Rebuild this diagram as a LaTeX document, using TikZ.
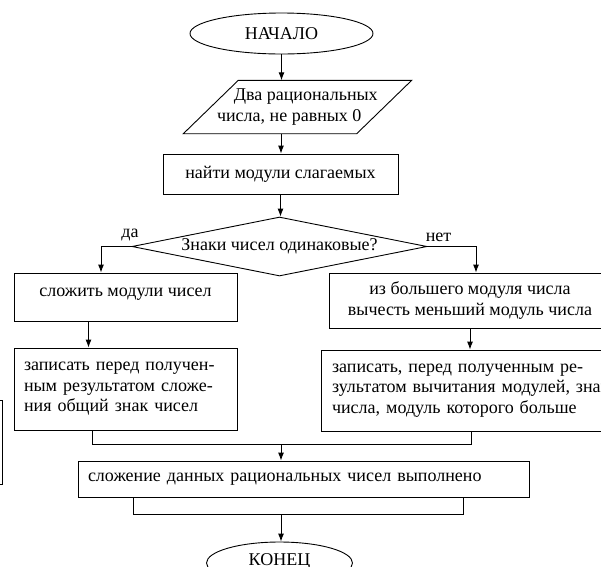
\documentclass[tikz,border=0pt]{standalone}
\usepackage{fontspec}
\setmainfont{Liberation Serif}
\usetikzlibrary{shapes.geometric,arrows.meta}
\begin{document}
\begin{tikzpicture}[x=1pt,y=-1pt,
  every node/.style={font=\fontsize{18pt}{20.5pt}\selectfont, inner sep=0pt},
  arr/.style={line width=0.9pt, -{Latex[length=8pt,width=6pt]}},
  conn/.style={line width=0.9pt},
  box/.style={draw, line width=0.9pt, rectangle},
  term/.style={draw, line width=0.9pt, ellipse},
  decide/.style={draw, line width=0.9pt, diamond, aspect=5},
]
\useasboundingbox (0,0) rectangle (601,566);
\clip (0,0) rectangle (601,566);

% nodes
\node[term, minimum width=183pt, minimum height=41pt] (start) at (281.5,33.5) {НАЧАЛО};
\node[minimum width=173pt, minimum height=53pt, align=center] (in) at (297.5,107) {\hspace*{16.5pt}Два рациональных\\числа, не равных 0\hspace*{16.5pt}};
\draw[conn] ([xshift=-27.5pt]in.south west) -- ([xshift=27.5pt]in.north west) -- ([xshift=27.5pt]in.north east) -- ([xshift=-27.5pt]in.south east) -- cycle;
\node[box, minimum width=235pt, minimum height=40pt] (find) at (280.5,174) {найти модули слагаемых};
\node[decide, minimum width=295pt, minimum height=59pt] (dia) at (279.5,246.5) {Знаки чисел одинаковые?};
\node (yes) at (130,235) {да};
\node (no) at (438.5,237) {нет};
\node[box, minimum width=223pt, minimum height=48pt, text height=10pt, text depth=11pt] (add) at (125.5,297) {сложить модули чисел};
\node[box, minimum width=282pt, minimum height=55pt, align=center] (sub) at (470,300.5) {из большего модуля числа\\вычесть меньший модуль числа};
\node[box, minimum width=223pt, minimum height=82pt, text width=203pt, align=left] (wr1) at (125.5,389) {записать перед получен-\\ным результатом сложе-\\ния общий знак чисел};
\node[box, minimum height=81pt, text width=300pt, inner xsep=11pt, align=left] (wr2) at (482,390.5) {записать, перед полученным ре-\\зультатом вычитания модулей, знак\\числа, модуль которого больше};
\node[box, minimum width=451pt, minimum height=36pt, text width=431pt, align=left] (res) at (303.5,479) {сложение данных рациональных чисел выполнено};
\node[term, minimum width=146pt, minimum height=42pt, text height=12pt, text depth=8pt] (end) at (279.5,563) {КОНЕЦ};

% partial box at left edge
\draw[conn] (-20,400) rectangle (2.5,484);

% connectors
\draw[arr] (start.south) -- (start.south |- in.north);
\draw[arr] ([xshift=-16.5pt]in.south) -- ([xshift=-16.5pt]in.south |- find.north);
\draw[arr] (find.south) -- (find.south |- dia.north);
\draw[arr] (dia.west) -| ([xshift=-24.5pt]add.north);
\draw[arr] (dia.east) -| ([xshift=6pt]sub.north);
\draw[arr] ([xshift=-37pt]add.south) -- ([xshift=-37pt]add.south |- wr1.north);
\draw[arr] (sub.south) -- (sub.south |- wr2.north);
\coordinate (j1) at (281,444);
\draw[conn] ([xshift=-33.5pt]wr1.south) |- (j1) -| ([xshift=-11pt]wr2.south);
\draw[arr] (j1) -- (j1 |- res.north);
\coordinate (j2) at (281,514);
\draw[conn] ([xshift=-170.5pt]res.south) |- (j2) -| ([xshift=159.5pt]res.south);
\draw[arr] (j2) -- (j2 |- end.north);
\end{tikzpicture}
\end{document}
